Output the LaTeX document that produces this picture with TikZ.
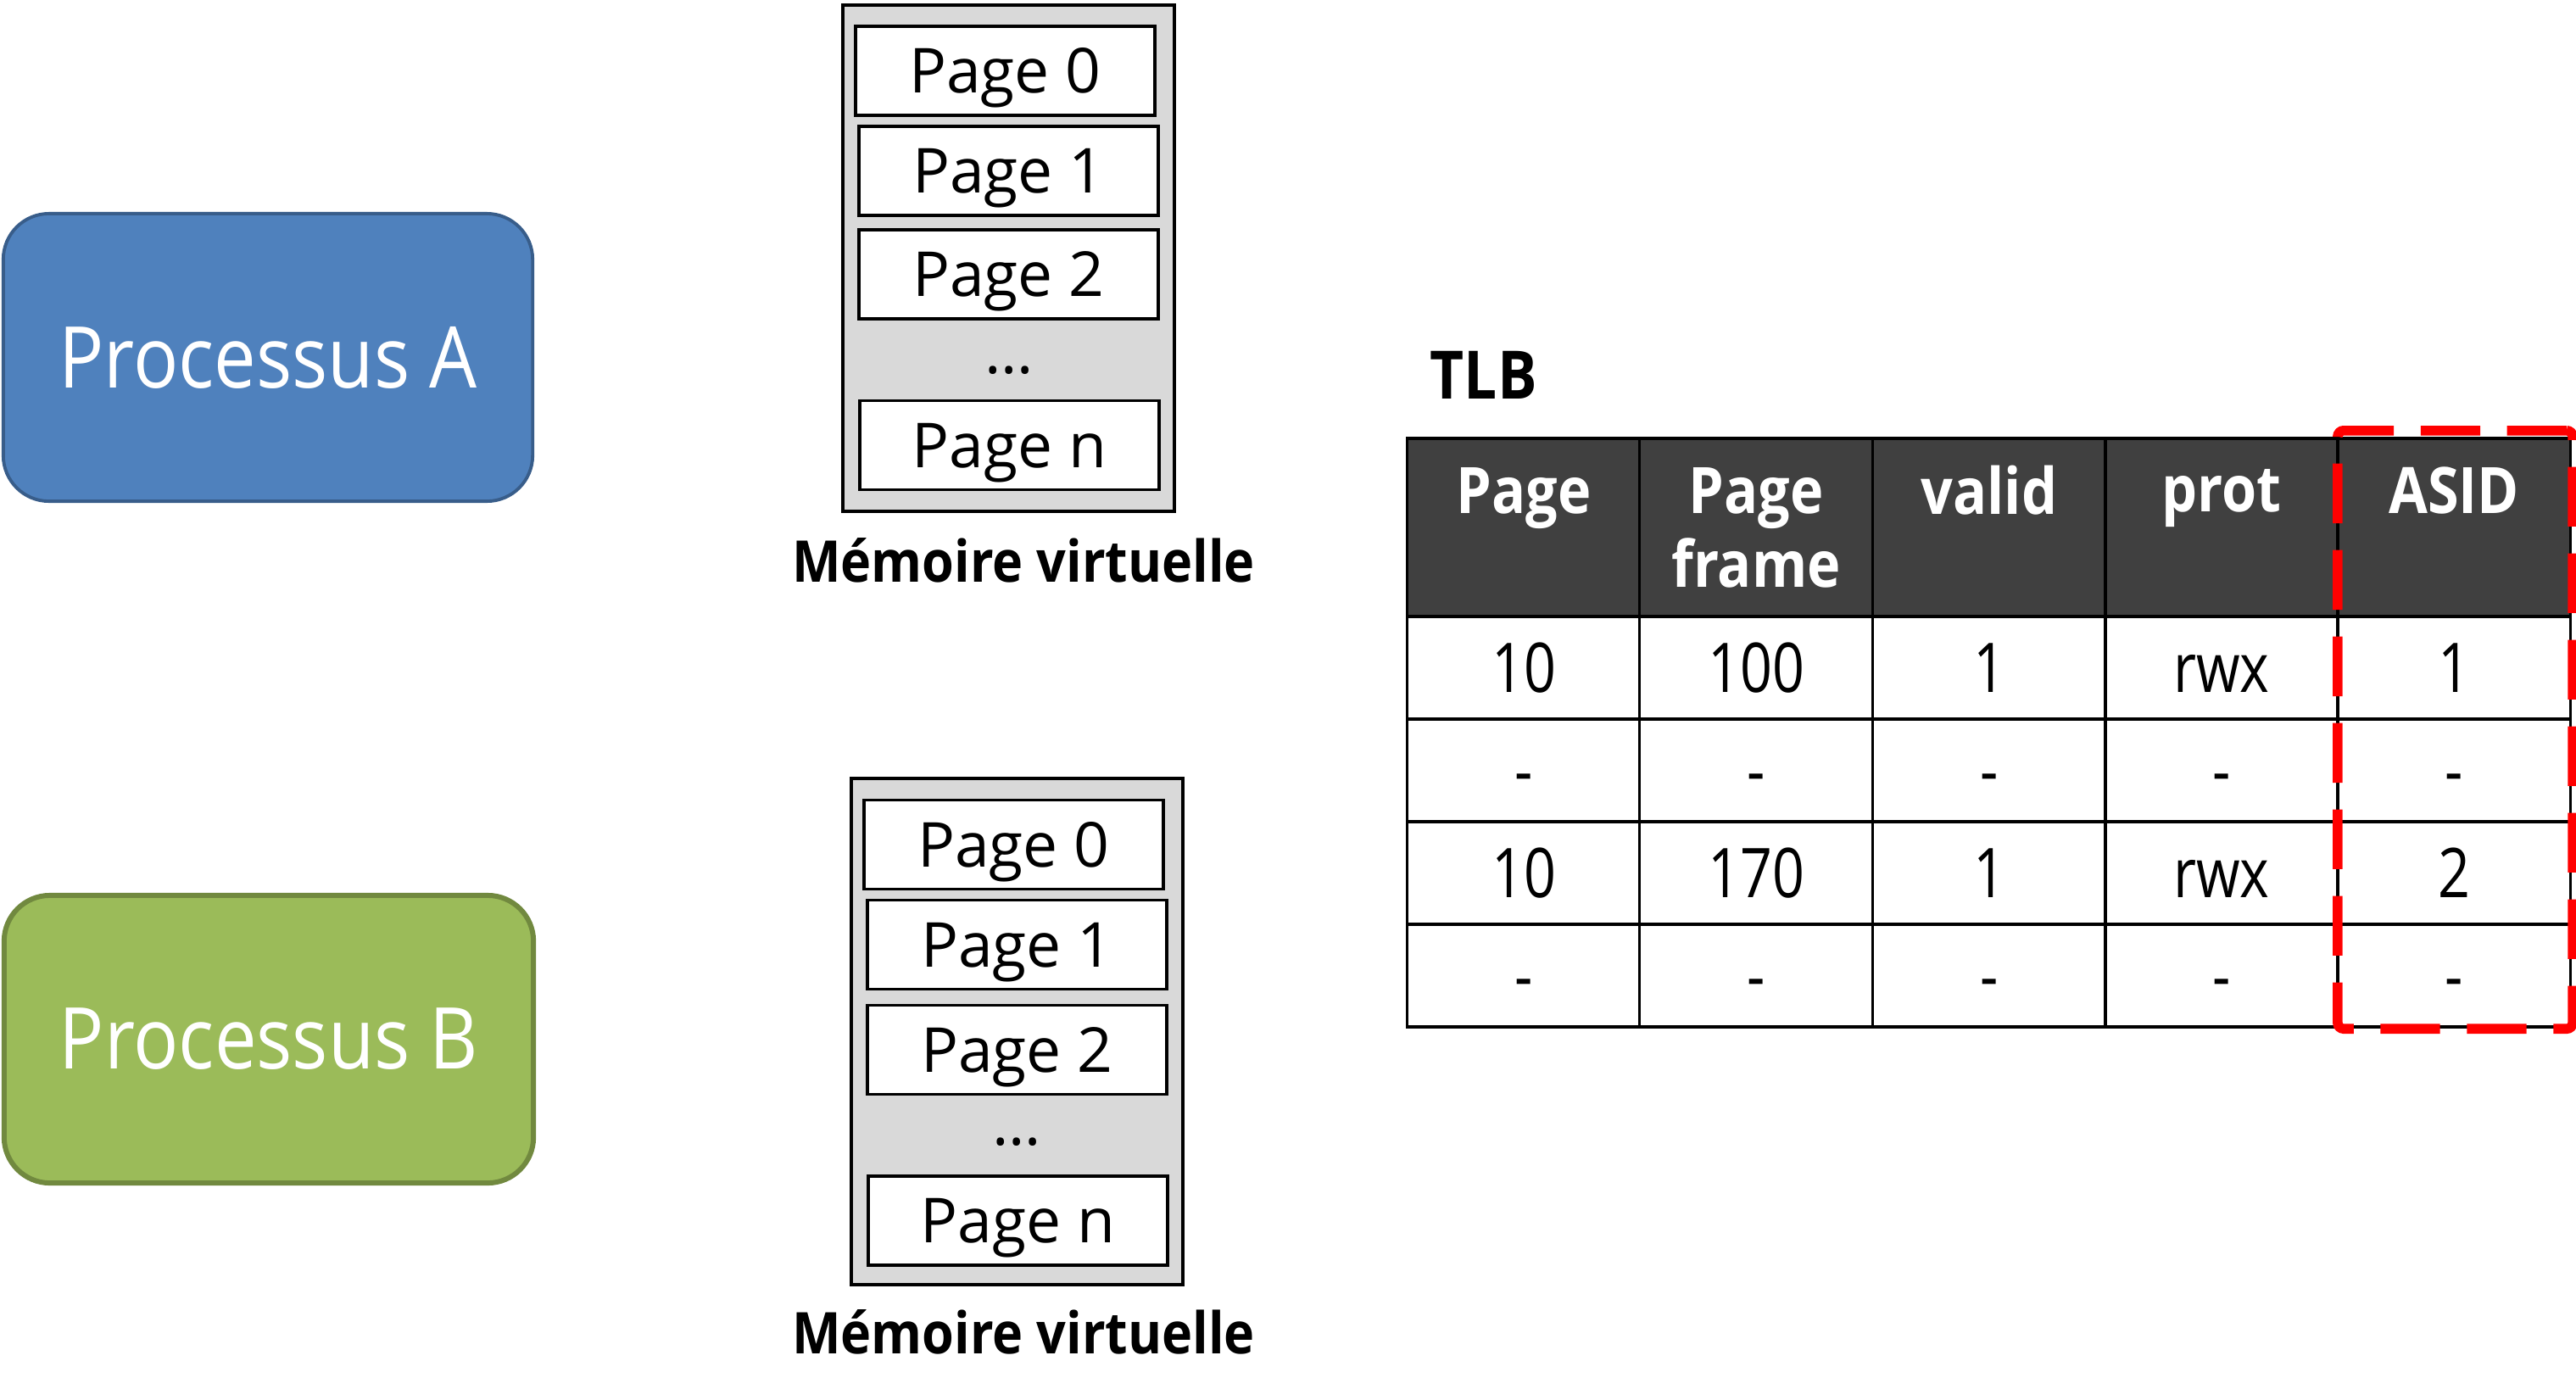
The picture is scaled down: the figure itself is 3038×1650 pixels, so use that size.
\documentclass[tikz,border=0pt]{standalone}
\usepackage{fontspec}
\setmainfont{Open Sans}
\newfontfamily\procfont[FakeStretch=0.88]{Open Sans}
\newfontfamily\hdrfont[FakeStretch=0.88]{Open Sans}
\newfontfamily\cellfont[FakeStretch=0.82]{Open Sans}
\newfontfamily\labfont[FakeStretch=0.9]{Open Sans}
\definecolor{procAfill}{HTML}{4F81BD}
\definecolor{procAdraw}{HTML}{385D8A}
\definecolor{procBfill}{HTML}{9BBB59}
\definecolor{procBdraw}{HTML}{71893F}
\definecolor{memgray}{HTML}{D9D9D9}
\definecolor{hdrgray}{HTML}{404040}
\tikzset{
  procbox/.style={rounded corners=0.54cm, minimum width=6.24cm, minimum height=3.39cm,
    text=white, font=\procfont\fontsize{28.6}{34}\selectfont},
  membox/.style={draw=black, fill=memgray, line width=1.1pt, minimum width=3.91cm, minimum height=5.97cm},
  pagebox/.style={draw=black, fill=white, line width=1.1pt, minimum width=3.53cm, minimum height=1.05cm,
    text height=14.8pt, text depth=0pt, font=\fontsize{20.8}{25}\selectfont},
  dotstext/.style={inner sep=0pt, font=\fontsize{20.8}{25}\selectfont},
  memlabel/.style={inner sep=0pt, font=\labfont\bfseries\fontsize{19.3}{23}\selectfont},
  hdrcell/.style={draw=black, fill=hdrgray, line width=1pt, minimum width=2.744cm, minimum height=2.10cm,
    text=white, align=center, font=\hdrfont\bfseries\fontsize{21.5}{24.8}\selectfont},
  datacell/.style={draw=black, fill=white, line width=1pt, minimum width=2.744cm, minimum height=1.21cm,
    text height=16.4pt, text depth=0pt, font=\cellfont\fontsize{23}{27}\selectfont},
  asidframe/.style={draw=red, line width=3.3pt, dash pattern=on 20pt off 9pt, rounded corners=2pt,
    minimum width=2.77cm, minimum height=7.05cm, inner sep=0pt},
}
\begin{document}
\begin{tikzpicture}[x=0.01cm, y=-0.01cm]
\useasboundingbox (0,0) rectangle (3038,1650);
% processes
\node[procbox, fill=procAfill, draw=procAdraw, line width=1.1pt] (pA) at (316,421.5) {Processus A};
\node[procbox, fill=procBfill, draw=procBdraw, line width=1.7pt] (pB) at (317,1225.5) {Processus B};
% virtual memory A
\node[membox] (memA) at (1189.5,304.5) {};
\node[pagebox] (a0) at (1185.5,83.5) {Page 0};
\node[pagebox] (a1) at (1189.5,201.5) {Page 1};
\node[pagebox] (a2) at (1189.5,323.5) {Page 2};
\node[dotstext] (adots) at (1190,437) {…};
\node[pagebox] (an) at (1190.5,525) {Page n};
\node[memlabel] (labA) at (1207,661) {Mémoire virtuelle};
% virtual memory B
\node[membox] (memB) at (1199.5,1216.5) {};
\node[pagebox] (b0) at (1195.5,996) {Page 0};
\node[pagebox] (b1) at (1199.5,1114) {Page 1};
\node[pagebox] (b2) at (1199.5,1238) {Page 2};
\node[dotstext] (bdots) at (1199,1347) {…};
\node[pagebox] (bn) at (1200.5,1439.5) {Page n};
\node[memlabel] (labB) at (1207,1571) {Mémoire virtuelle};
% TLB
\node[inner sep=0pt, anchor=west, font=\hdrfont\bfseries\fontsize{22.4}{27}\selectfont] (tlb) at (1686,442) {TLB};
\node[hdrcell] (h1) at (1797,622) {Page\\\phantom{frame}};
\node[hdrcell] (h2) at (2071,622) {Page\\frame};
\node[hdrcell] (h3) at (2346,622) {valid\\\phantom{frame}};
\node[hdrcell] (h4) at (2620,622) {prot\\\phantom{frame}};
\node[hdrcell] (h5) at (2894,622) {ASID\\\phantom{frame}};
% rows
\node[datacell] (r11) at (1797,787.5) {10};
\node[datacell] (r12) at (2071,787.5) {100};
\node[datacell] (r13) at (2346,787.5) {1};
\node[datacell] (r14) at (2620,787.5) {rwx};
\node[datacell] (r15) at (2894,787.5) {1};
\node[datacell] (r21) at (1797,908.5) {-};
\node[datacell] (r22) at (2071,908.5) {-};
\node[datacell] (r23) at (2346,908.5) {-};
\node[datacell] (r24) at (2620,908.5) {-};
\node[datacell] (r25) at (2894,908.5) {-};
\node[datacell] (r31) at (1797,1029.5) {10};
\node[datacell] (r32) at (2071,1029.5) {170};
\node[datacell] (r33) at (2346,1029.5) {1};
\node[datacell] (r34) at (2620,1029.5) {rwx};
\node[datacell] (r35) at (2894,1029.5) {2};
\node[datacell] (r41) at (1797,1150.5) {-};
\node[datacell] (r42) at (2071,1150.5) {-};
\node[datacell] (r43) at (2346,1150.5) {-};
\node[datacell] (r44) at (2620,1150.5) {-};
\node[datacell] (r45) at (2894,1150.5) {-};
% ASID highlight
\node[asidframe] (asid) at (2895.5,860.5) {};
\end{tikzpicture}
\end{document}
